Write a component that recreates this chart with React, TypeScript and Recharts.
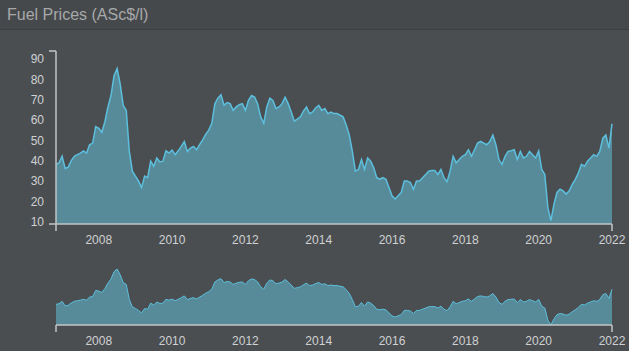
import { AreaChart, Area, XAxis, YAxis } from "recharts";

// monthly average fuel price, Nov 2006 .. Jan 2022 (ASc$/l)
const startYear = 2006;
const startMonth = 10; // November, zero based
const prices = [
  38.0, 38.8, 42.0, 36.0, 36.7, 39.9, 42.0, 42.8, 43.6, 44.7, 43.6, 47.7,
  48.5, 56.6, 55.8, 53.8, 59.0, 66.3, 71.9, 81.6, 85.2, 77.6, 67.1, 64.6,
  44.4, 34.7, 32.3, 29.9, 26.6, 32.3, 31.5, 39.6, 37.1, 41.2, 39.2, 39.6,
  44.7, 43.6, 45.0, 42.8, 44.7, 46.9, 49.3, 44.4, 46.0, 46.9, 45.2, 47.7,
  50.1, 52.8, 54.9, 58.2, 67.9, 70.6, 72.3, 67.1, 68.4, 67.9, 64.6, 66.3,
  67.4, 67.9, 64.6, 69.5, 71.9, 71.1, 67.9, 61.4, 58.2, 66.3, 70.6, 69.5,
  65.5, 66.3, 67.9, 71.1, 67.9, 63.8, 59.3, 60.3, 61.4, 64.2, 66.3, 63.0,
  63.8, 65.8, 67.1, 64.6, 65.5, 63.0, 63.8, 63.0, 63.0, 62.2, 61.4, 57.4,
  52.5, 44.4, 34.7, 35.5, 40.4, 35.5, 41.2, 39.6, 36.3, 31.5, 30.7, 31.5,
  30.7, 26.6, 22.6, 21.0, 22.6, 24.2, 29.9, 29.9, 29.1, 25.8, 29.9, 29.9,
  31.5, 33.1, 34.7, 35.0, 35.0, 33.1, 35.5, 31.5, 29.5, 34.7, 42.0, 38.8,
  40.4, 42.0, 42.8, 45.2, 42.0, 45.2, 48.5, 49.3, 48.5, 47.7, 49.3, 52.5,
  47.7, 40.4, 38.0, 42.0, 44.4, 44.7, 45.2, 40.4, 44.4, 41.2, 42.0, 44.4,
  42.8, 41.2, 44.7, 35.5, 33.1, 16.9, 10.4, 18.5, 24.2, 25.8, 25.0, 23.4,
  25.0, 28.2, 30.7, 33.9, 38.0, 37.1, 39.6, 41.2, 42.8, 42.0, 44.4, 50.9,
  52.5, 46.0, 58.0,
];
const dates = prices.map((_, i) => startYear + (startMonth + i) / 12);

const yearTicks = [2008, 2010, 2012, 2014, 2016, 2018, 2020, 2022];
const priceTicks = [10, 20, 30, 40, 50, 60, 70, 80, 90];
const priceDomain = [8.7, 93.8];

const data = dates.map((t, i) => ({ t, price: prices[i] }));
const tMin = dates[0];
const tMax = dates[dates.length - 1];

const axisColor = "#c2c4c6";
const labelColor = "#cfd1d3";
const font = "'Liberation Sans', Arial, sans-serif";

function XTick(props: any) {
  const { x, y, payload } = props;
  const v = payload.value;
  const isEnd = Math.abs(v - tMin) < 1e-6 || Math.abs(v - tMax) < 1e-6;
  const isLabel = yearTicks.some((yr) => Math.abs(yr - v) < 1e-6);
  return (
    <g>
      {isEnd && <line x1={x} x2={x} y1={y} y2={y + 7} stroke={axisColor} strokeWidth={1.5} />}
      {isLabel && (
        <text x={x} y={y + 20} textAnchor="middle" fill={labelColor} fontSize={12} fontFamily={font}>
          {Math.round(v)}
        </text>
      )}
    </g>
  );
}

function YTick(props: any) {
  const { x, y, payload } = props;
  const v = payload.value;
  const isEnd = v === priceDomain[0] || v === priceDomain[1];
  return (
    <g>
      {isEnd && <line x1={x - 7} x2={x} y1={y} y2={y} stroke={axisColor} strokeWidth={1.5} />}
      {!isEnd && (
        <text x={x - 12} y={y + 4.5} textAnchor="end" fill={labelColor} fontSize={12} fontFamily={font}>
          {v}
        </text>
      )}
    </g>
  );
}

export default function App() {
  return (
    <div
      style={{
        position: "absolute",
        left: 0,
        top: 0,
        width: 629,
        height: 351,
        background: "#4b4e51",
        overflow: "hidden",
      }}
    >
      {/* title bar */}
      <div
        style={{
          position: "absolute",
          left: 0,
          top: 0,
          width: 629,
          height: 30,
          background: "#46494c",
          borderBottom: "1px solid #3c3f42",
          boxSizing: "border-box",
        }}
      >
        <div
          style={{
            position: "absolute",
            left: 7,
            top: 5,
            fontFamily: font,
            fontSize: 16,
            color: "#a6a8aa",
            lineHeight: "20px",
          }}
        >
          Fuel Prices (ASc$/l)
        </div>
      </div>

      {/* main chart */}
      <div style={{ position: "absolute", left: 0, top: 0 }}>
        <AreaChart width={629} height={260} data={data} margin={{ top: 51, right: 17, left: 0, bottom: 6 }}>
          <XAxis
            dataKey="t"
            type="number"
            domain={[tMin, tMax]}
            ticks={[tMin, ...yearTicks]}
            interval={0}
            tickLine={false}
            tickSize={0}
            tickMargin={0}
            height={30}
            axisLine={{ stroke: axisColor, strokeWidth: 1.5 }}
            tick={<XTick />}
          />
          <YAxis
            type="number"
            domain={priceDomain}
            ticks={[priceDomain[0], ...priceTicks, priceDomain[1]]}
            interval={0}
            allowDataOverflow
            tickLine={false}
            tickSize={0}
            tickMargin={0}
            width={56}
            axisLine={{ stroke: axisColor, strokeWidth: 1.5 }}
            tick={<YTick />}
          />
          <Area
            type="linear"
            dataKey="price"
            stroke="#5cbfdd"
            strokeWidth={1.5}
            fill="#578b9a"
            fillOpacity={1}
            isAnimationActive={false}
          />
        </AreaChart>
      </div>

      {/* navigator */}
      <div style={{ position: "absolute", left: 0, top: 260 }}>
        <AreaChart width={629} height={91} data={data} margin={{ top: 9, right: 17, left: 56, bottom: 0 }}>
          <XAxis
            dataKey="t"
            type="number"
            domain={[tMin, tMax]}
            ticks={[tMin, ...yearTicks]}
            interval={0}
            tickLine={false}
            tickSize={0}
            tickMargin={0}
            height={26}
            axisLine={{ stroke: axisColor, strokeWidth: 1.5 }}
            tick={<XTick />}
          />
          <YAxis hide type="number" domain={["dataMin", "dataMax"]} />
          <Area
            type="linear"
            dataKey="price"
            stroke="#5cbfdd"
            strokeWidth={1}
            fill="#578b9a"
            fillOpacity={1}
            isAnimationActive={false}
          />
        </AreaChart>
      </div>
    </div>
  );
}
